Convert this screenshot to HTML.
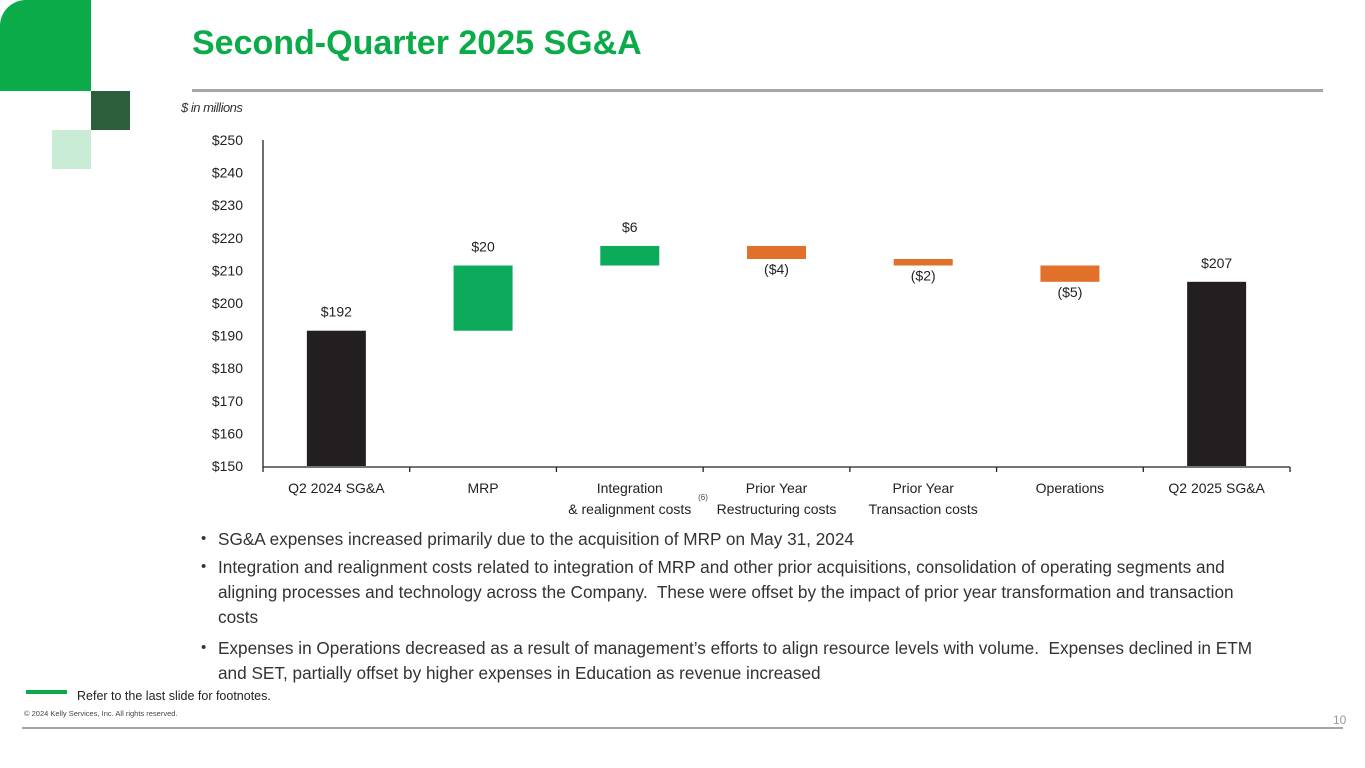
<!DOCTYPE html>
<html><head><meta charset="utf-8"><style>
body{margin:0;width:1365px;height:768px;overflow:hidden;background:#fff;font-family:"Liberation Sans",sans-serif;position:relative;color:#222}
.a{position:absolute}
.bl{position:absolute;left:218px;font-size:17.2px;color:#333;line-height:25px;width:1052px}
.dot{position:absolute;left:201px;font-size:15px;color:#333}
</style></head><body>
<div class="a" style="left:0;top:0;width:91px;height:91px;background:#0bab49;border-top-left-radius:26px"></div>
<div class="a" style="left:91px;top:91px;width:39px;height:39px;background:#2c5e3b"></div>
<div class="a" style="left:52px;top:130px;width:39px;height:39px;background:#c8ecd6"></div>
<div class="a" style="left:192px;top:24px;font-size:34px;font-weight:bold;color:#0bab49">Second-Quarter 2025 SG&amp;A</div>
<div class="a" style="left:192px;top:89px;width:1131px;height:3px;background:#a6a6a6"></div>
<div class="a" style="left:181px;top:100px;font-size:13px;font-style:italic;color:#333;letter-spacing:-0.5px">$ in millions</div>
<svg class="a" style="left:0;top:0" width="1365" height="768" id="chart"></svg>
<div class="dot" style="top:530px">•</div><div class="bl" style="top:527px">SG&amp;A expenses increased primarily due to the acquisition of MRP on May 31, 2024</div>
<div class="dot" style="top:558px">•</div><div class="bl" style="top:555px">Integration and realignment costs related to integration of MRP and other prior acquisitions, consolidation of operating segments and aligning processes and technology across the Company.&nbsp; These were offset by the impact of prior year transformation and transaction costs</div>
<div class="dot" style="top:639px">•</div><div class="bl" style="top:636px">Expenses in Operations decreased as a result of management’s efforts to align resource levels with volume.&nbsp; Expenses declined in ETM and SET, partially offset by higher expenses in Education as revenue increased</div>
<div class="a" style="left:26px;top:690px;width:41px;height:4px;background:#0bab49"></div>
<div class="a" style="left:77px;top:689px;font-size:12.5px;color:#222">Refer to the last slide for footnotes.</div>
<div class="a" style="left:24px;top:709px;font-size:7.5px;color:#444">© 2024 Kelly Services, Inc. All rights reserved.</div>
<div class="a" style="left:22px;top:727px;width:1321px;height:2px;background:#a6a6a6"></div>
<div class="a" style="left:1333px;top:713px;font-size:12px;color:#999">10</div>
<script>
const categories=[["Q2 2024 SG&A"],["MRP"],["Integration","& realignment costs"],["Prior Year","Restructuring costs"],["Prior Year","Transaction costs"],["Operations"],["Q2 2025 SG&A"]];
const startValue=191.5;
const deltas=[20,6,-4,-2,-5];
const endValue=206.5;
const valueLabels=["$192","$20","$6","($4)","($2)","($5)","$207"];
const yTicks=[150,160,170,180,190,200,210,220,230,240,250];
const svg=document.getElementById('chart');const NS='http://www.w3.org/2000/svg';
const x0=263,x1=1290,yMin=150,yMax=250,yTop=140,yBot=466;
const bw=(x1-x0)/categories.length;
const y=v=>yBot-(v-yMin)/(yMax-yMin)*(yBot-yTop);
const cx=i=>x0+bw*(i+0.5);
function mk(t,a){const e=document.createElementNS(NS,t);for(const k in a)e.setAttribute(k,a[k]);svg.appendChild(e);return e;}
function txt(s,xx,yy,size,fill,anchor){const e=mk('text',{x:xx,y:yy,'font-size':size,fill:fill||'#222','text-anchor':anchor||'middle','font-family':'Liberation Sans, sans-serif'});e.textContent=s;return e;}
let e=mk('line',{x1:x0,y1:yTop,x2:x0,y2:yBot+1,stroke:'#222','stroke-width':1.3});

e=mk('line',{x1:x0,y1:yBot+1,x2:x1,y2:yBot+1,stroke:'#222','stroke-width':1.3});

for(let i=0;i<=categories.length;i++){mk('line',{x1:x0+bw*i,y1:yBot+1,x2:x0+bw*i,y2:yBot+6,stroke:'#222','stroke-width':1.3});}
yTicks.forEach(v=>{e=txt('$'+v,243,y(v)+5,14,'#222','end');});
categories.forEach((c,i)=>{c.forEach((l,j)=>{e=txt(l,cx(i),yBot+27+j*21,14,'#222');});});
e=txt('(6)',703,500,8,'#444');
const w=59;
function bar(i,a,b,col,lab,above){const top=y(Math.max(a,b)),bot=y(Math.min(a,b));
 const r=mk('rect',{x:cx(i)-w/2,y:top,width:w,height:bot-top,fill:col});
 
 const t=txt(lab,cx(i),above?top-14:bot+15,14,'#222');
 }
bar(0,yMin,startValue,'#231f20',valueLabels[0],true);
let cur=startValue;
deltas.forEach((d,k)=>{const n=cur+d;bar(k+1,cur,n,d>=0?'#0bab5b':'#e0702a',valueLabels[k+1],d>=0);cur=n;});
bar(6,yMin,endValue,'#231f20',valueLabels[6],true);
</script>
</body></html>
